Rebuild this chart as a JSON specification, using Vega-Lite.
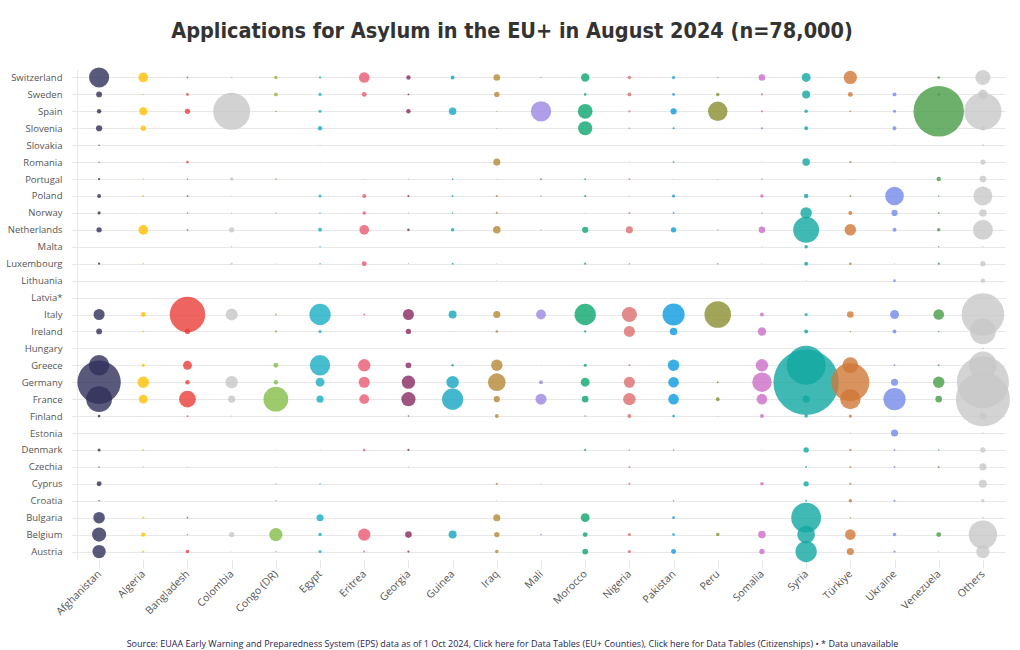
{
"$schema": "https://vega.github.io/schema/vega-lite/v6.json",
"autosize": {"type": "none"},
"width": 928,
"height": 491,
"padding": {"left": 77, "top": 69, "right": 15, "bottom": 90},
"background": "white",
"title": {"text": "Applications for Asylum in the EU+ in August 2024 (n=78,000)", "font": "DejaVu Sans Condensed, Open Sans, sans-serif", "fontSize": 21.5, "fontWeight": "bold", "color": "#333333", "anchor": "middle", "dx": -29, "offset": 25},
"config": {"view": {"stroke": null}, "font": "Open Sans"},
"data": {"values": [
{"c":"Switzerland","n":"Afghanistan","v":595},{"c":"Switzerland","n":"Algeria","v":140},{"c":"Switzerland","n":"Bangladesh","v":5},{"c":"Switzerland","n":"Colombia","v":5},{"c":"Switzerland","n":"Congo (DR)","v":18},{"c":"Switzerland","n":"Egypt","v":7},{"c":"Switzerland","n":"Eritrea","v":166},{"c":"Switzerland","n":"Georgia","v":29},{"c":"Switzerland","n":"Guinea","v":23},{"c":"Switzerland","n":"Iraq","v":65},{"c":"Switzerland","n":"Mali","v":3},{"c":"Switzerland","n":"Morocco","v":104},{"c":"Switzerland","n":"Nigeria","v":18},{"c":"Switzerland","n":"Pakistan","v":14},{"c":"Switzerland","n":"Peru","v":3},{"c":"Switzerland","n":"Somalia","v":65},{"c":"Switzerland","n":"Syria","v":116},{"c":"Switzerland","n":"Türkiye","v":260},{"c":"Switzerland","n":"Venezuela","v":10},{"c":"Switzerland","n":"Others","v":334},
{"c":"Sweden","n":"Afghanistan","v":49},{"c":"Sweden","n":"Algeria","v":3},{"c":"Sweden","n":"Bangladesh","v":10},{"c":"Sweden","n":"Colombia","v":10},{"c":"Sweden","n":"Congo (DR)","v":23},{"c":"Sweden","n":"Egypt","v":14},{"c":"Sweden","n":"Eritrea","v":35},{"c":"Sweden","n":"Georgia","v":5},{"c":"Sweden","n":"Iraq","v":42},{"c":"Sweden","n":"Morocco","v":10},{"c":"Sweden","n":"Nigeria","v":23},{"c":"Sweden","n":"Pakistan","v":10},{"c":"Sweden","n":"Peru","v":18},{"c":"Sweden","n":"Somalia","v":7},{"c":"Sweden","n":"Syria","v":94},{"c":"Sweden","n":"Türkiye","v":35},{"c":"Sweden","n":"Ukraine","v":23},{"c":"Sweden","n":"Venezuela","v":10},{"c":"Sweden","n":"Others","v":140},
{"c":"Spain","n":"Afghanistan","v":29},{"c":"Spain","n":"Algeria","v":94},{"c":"Spain","n":"Bangladesh","v":42},{"c":"Spain","n":"Colombia","v":2007},{"c":"Spain","n":"Congo (DR)","v":5},{"c":"Spain","n":"Egypt","v":14},{"c":"Spain","n":"Georgia","v":29},{"c":"Spain","n":"Guinea","v":83},{"c":"Spain","n":"Iraq","v":2},{"c":"Spain","n":"Mali","v":611},{"c":"Spain","n":"Morocco","v":322},{"c":"Spain","n":"Nigeria","v":7},{"c":"Spain","n":"Pakistan","v":57},{"c":"Spain","n":"Peru","v":559},{"c":"Spain","n":"Somalia","v":7},{"c":"Spain","n":"Syria","v":18},{"c":"Spain","n":"Türkiye","v":5},{"c":"Spain","n":"Ukraine","v":14},{"c":"Spain","n":"Venezuela","v":3754},{"c":"Spain","n":"Others","v":2040},
{"c":"Slovenia","n":"Afghanistan","v":57},{"c":"Slovenia","n":"Algeria","v":42},{"c":"Slovenia","n":"Egypt","v":29},{"c":"Slovenia","n":"Iraq","v":2},{"c":"Slovenia","n":"Morocco","v":296},{"c":"Slovenia","n":"Nigeria","v":3},{"c":"Slovenia","n":"Pakistan","v":7},{"c":"Slovenia","n":"Somalia","v":7},{"c":"Slovenia","n":"Syria","v":23},{"c":"Slovenia","n":"Ukraine","v":23},{"c":"Slovenia","n":"Venezuela","v":3},{"c":"Slovenia","n":"Others","v":29},
{"c":"Slovakia","n":"Afghanistan","v":3},{"c":"Slovakia","n":"Egypt","v":1},{"c":"Slovakia","n":"Ukraine","v":1},{"c":"Slovakia","n":"Others","v":5},
{"c":"Romania","n":"Afghanistan","v":3},{"c":"Romania","n":"Bangladesh","v":10},{"c":"Romania","n":"Egypt","v":1},{"c":"Romania","n":"Iraq","v":74},{"c":"Romania","n":"Nigeria","v":1},{"c":"Romania","n":"Pakistan","v":5},{"c":"Romania","n":"Somalia","v":1},{"c":"Romania","n":"Syria","v":83},{"c":"Romania","n":"Türkiye","v":7},{"c":"Romania","n":"Ukraine","v":1},{"c":"Romania","n":"Others","v":42},
{"c":"Portugal","n":"Afghanistan","v":7},{"c":"Portugal","n":"Algeria","v":3},{"c":"Portugal","n":"Bangladesh","v":3},{"c":"Portugal","n":"Colombia","v":18},{"c":"Portugal","n":"Congo (DR)","v":5},{"c":"Portugal","n":"Eritrea","v":1},{"c":"Portugal","n":"Georgia","v":1},{"c":"Portugal","n":"Guinea","v":5},{"c":"Portugal","n":"Iraq","v":1},{"c":"Portugal","n":"Mali","v":7},{"c":"Portugal","n":"Morocco","v":5},{"c":"Portugal","n":"Nigeria","v":5},{"c":"Portugal","n":"Pakistan","v":1},{"c":"Portugal","n":"Peru","v":1},{"c":"Portugal","n":"Somalia","v":3},{"c":"Portugal","n":"Türkiye","v":1},{"c":"Portugal","n":"Venezuela","v":29},{"c":"Portugal","n":"Others","v":65},
{"c":"Poland","n":"Afghanistan","v":23},{"c":"Poland","n":"Algeria","v":5},{"c":"Poland","n":"Bangladesh","v":5},{"c":"Poland","n":"Colombia","v":1},{"c":"Poland","n":"Egypt","v":14},{"c":"Poland","n":"Eritrea","v":23},{"c":"Poland","n":"Georgia","v":7},{"c":"Poland","n":"Guinea","v":5},{"c":"Poland","n":"Iraq","v":7},{"c":"Poland","n":"Mali","v":3},{"c":"Poland","n":"Morocco","v":7},{"c":"Poland","n":"Nigeria","v":1},{"c":"Poland","n":"Pakistan","v":14},{"c":"Poland","n":"Somalia","v":18},{"c":"Poland","n":"Syria","v":29},{"c":"Poland","n":"Türkiye","v":5},{"c":"Poland","n":"Ukraine","v":510},{"c":"Poland","n":"Venezuela","v":3},{"c":"Poland","n":"Others","v":525},
{"c":"Norway","n":"Afghanistan","v":14},{"c":"Norway","n":"Algeria","v":1},{"c":"Norway","n":"Bangladesh","v":3},{"c":"Norway","n":"Colombia","v":3},{"c":"Norway","n":"Congo (DR)","v":3},{"c":"Norway","n":"Egypt","v":3},{"c":"Norway","n":"Eritrea","v":18},{"c":"Norway","n":"Georgia","v":1},{"c":"Norway","n":"Guinea","v":3},{"c":"Norway","n":"Iraq","v":7},{"c":"Norway","n":"Morocco","v":1},{"c":"Norway","n":"Nigeria","v":5},{"c":"Norway","n":"Pakistan","v":5},{"c":"Norway","n":"Somalia","v":3},{"c":"Norway","n":"Syria","v":195},{"c":"Norway","n":"Türkiye","v":23},{"c":"Norway","n":"Ukraine","v":57},{"c":"Norway","n":"Venezuela","v":5},{"c":"Norway","n":"Others","v":83},
{"c":"Netherlands","n":"Afghanistan","v":42},{"c":"Netherlands","n":"Algeria","v":140},{"c":"Netherlands","n":"Bangladesh","v":5},{"c":"Netherlands","n":"Colombia","v":42},{"c":"Netherlands","n":"Egypt","v":23},{"c":"Netherlands","n":"Eritrea","v":140},{"c":"Netherlands","n":"Georgia","v":10},{"c":"Netherlands","n":"Guinea","v":18},{"c":"Netherlands","n":"Iraq","v":83},{"c":"Netherlands","n":"Mali","v":3},{"c":"Netherlands","n":"Morocco","v":57},{"c":"Netherlands","n":"Nigeria","v":74},{"c":"Netherlands","n":"Pakistan","v":42},{"c":"Netherlands","n":"Peru","v":3},{"c":"Netherlands","n":"Somalia","v":65},{"c":"Netherlands","n":"Syria","v":995},{"c":"Netherlands","n":"Türkiye","v":195},{"c":"Netherlands","n":"Ukraine","v":23},{"c":"Netherlands","n":"Venezuela","v":18},{"c":"Netherlands","n":"Others","v":585},
{"c":"Malta","n":"Colombia","v":3},{"c":"Malta","n":"Egypt","v":3},{"c":"Malta","n":"Somalia","v":1},{"c":"Malta","n":"Syria","v":18},{"c":"Malta","n":"Venezuela","v":3},{"c":"Malta","n":"Others","v":3},
{"c":"Luxembourg","n":"Afghanistan","v":7},{"c":"Luxembourg","n":"Algeria","v":3},{"c":"Luxembourg","n":"Colombia","v":7},{"c":"Luxembourg","n":"Congo (DR)","v":1},{"c":"Luxembourg","n":"Egypt","v":3},{"c":"Luxembourg","n":"Eritrea","v":35},{"c":"Luxembourg","n":"Georgia","v":1},{"c":"Luxembourg","n":"Guinea","v":5},{"c":"Luxembourg","n":"Iraq","v":1},{"c":"Luxembourg","n":"Morocco","v":7},{"c":"Luxembourg","n":"Nigeria","v":3},{"c":"Luxembourg","n":"Peru","v":3},{"c":"Luxembourg","n":"Somalia","v":1},{"c":"Luxembourg","n":"Syria","v":23},{"c":"Luxembourg","n":"Türkiye","v":10},{"c":"Luxembourg","n":"Ukraine","v":1},{"c":"Luxembourg","n":"Venezuela","v":7},{"c":"Luxembourg","n":"Others","v":42},
{"c":"Lithuania","n":"Iraq","v":1},{"c":"Lithuania","n":"Syria","v":1},{"c":"Lithuania","n":"Ukraine","v":10},{"c":"Lithuania","n":"Others","v":29},
{"c":"Italy","n":"Afghanistan","v":180},{"c":"Italy","n":"Algeria","v":35},{"c":"Italy","n":"Bangladesh","v":1849},{"c":"Italy","n":"Colombia","v":210},{"c":"Italy","n":"Congo (DR)","v":5},{"c":"Italy","n":"Egypt","v":666},{"c":"Italy","n":"Eritrea","v":5},{"c":"Italy","n":"Georgia","v":180},{"c":"Italy","n":"Guinea","v":94},{"c":"Italy","n":"Iraq","v":74},{"c":"Italy","n":"Mali","v":140},{"c":"Italy","n":"Morocco","v":666},{"c":"Italy","n":"Nigeria","v":334},{"c":"Italy","n":"Pakistan","v":722},{"c":"Italy","n":"Peru","v":1040},{"c":"Italy","n":"Somalia","v":23},{"c":"Italy","n":"Syria","v":14},{"c":"Italy","n":"Türkiye","v":65},{"c":"Italy","n":"Ukraine","v":116},{"c":"Italy","n":"Venezuela","v":166},{"c":"Italy","n":"Others","v":2662},
{"c":"Ireland","n":"Afghanistan","v":49},{"c":"Ireland","n":"Algeria","v":5},{"c":"Ireland","n":"Bangladesh","v":42},{"c":"Ireland","n":"Congo (DR)","v":7},{"c":"Ireland","n":"Egypt","v":14},{"c":"Ireland","n":"Georgia","v":42},{"c":"Ireland","n":"Guinea","v":1},{"c":"Ireland","n":"Iraq","v":10},{"c":"Ireland","n":"Morocco","v":7},{"c":"Ireland","n":"Nigeria","v":180},{"c":"Ireland","n":"Pakistan","v":83},{"c":"Ireland","n":"Somalia","v":104},{"c":"Ireland","n":"Syria","v":23},{"c":"Ireland","n":"Türkiye","v":3},{"c":"Ireland","n":"Ukraine","v":23},{"c":"Ireland","n":"Venezuela","v":3},{"c":"Ireland","n":"Others","v":972},
{"c":"Hungary","n":"Others","v":5},
{"c":"Greece","n":"Afghanistan","v":611},{"c":"Greece","n":"Algeria","v":14},{"c":"Greece","n":"Bangladesh","v":116},{"c":"Greece","n":"Congo (DR)","v":35},{"c":"Greece","n":"Egypt","v":611},{"c":"Greece","n":"Eritrea","v":226},{"c":"Greece","n":"Georgia","v":49},{"c":"Greece","n":"Guinea","v":10},{"c":"Greece","n":"Iraq","v":195},{"c":"Greece","n":"Mali","v":1},{"c":"Greece","n":"Morocco","v":14},{"c":"Greece","n":"Nigeria","v":5},{"c":"Greece","n":"Pakistan","v":195},{"c":"Greece","n":"Somalia","v":226},{"c":"Greece","n":"Syria","v":2237},{"c":"Greece","n":"Türkiye","v":374},{"c":"Greece","n":"Ukraine","v":5},{"c":"Greece","n":"Venezuela","v":5},{"c":"Greece","n":"Others","v":1110},
{"c":"Germany","n":"Afghanistan","v":2775},{"c":"Germany","n":"Algeria","v":195},{"c":"Germany","n":"Bangladesh","v":29},{"c":"Germany","n":"Colombia","v":226},{"c":"Germany","n":"Congo (DR)","v":29},{"c":"Germany","n":"Egypt","v":116},{"c":"Germany","n":"Eritrea","v":180},{"c":"Germany","n":"Georgia","v":260},{"c":"Germany","n":"Guinea","v":226},{"c":"Germany","n":"Iraq","v":462},{"c":"Germany","n":"Mali","v":23},{"c":"Germany","n":"Morocco","v":116},{"c":"Germany","n":"Nigeria","v":180},{"c":"Germany","n":"Pakistan","v":166},{"c":"Germany","n":"Peru","v":5},{"c":"Germany","n":"Somalia","v":559},{"c":"Germany","n":"Syria","v":6300},{"c":"Germany","n":"Türkiye","v":2137},{"c":"Germany","n":"Ukraine","v":74},{"c":"Germany","n":"Venezuela","v":195},{"c":"Germany","n":"Others","v":4000},
{"c":"France","n":"Afghanistan","v":972},{"c":"France","n":"Algeria","v":116},{"c":"France","n":"Bangladesh","v":417},{"c":"France","n":"Colombia","v":74},{"c":"France","n":"Congo (DR)","v":906},{"c":"France","n":"Egypt","v":74},{"c":"France","n":"Eritrea","v":140},{"c":"France","n":"Georgia","v":296},{"c":"France","n":"Guinea","v":666},{"c":"France","n":"Iraq","v":57},{"c":"France","n":"Mali","v":180},{"c":"France","n":"Morocco","v":65},{"c":"France","n":"Nigeria","v":226},{"c":"France","n":"Pakistan","v":166},{"c":"France","n":"Peru","v":23},{"c":"France","n":"Somalia","v":166},{"c":"France","n":"Syria","v":74},{"c":"France","n":"Türkiye","v":611},{"c":"France","n":"Ukraine","v":722},{"c":"France","n":"Venezuela","v":65},{"c":"France","n":"Others","v":4300},
{"c":"Finland","n":"Afghanistan","v":10},{"c":"Finland","n":"Algeria","v":1},{"c":"Finland","n":"Bangladesh","v":5},{"c":"Finland","n":"Colombia","v":3},{"c":"Finland","n":"Congo (DR)","v":1},{"c":"Finland","n":"Georgia","v":3},{"c":"Finland","n":"Iraq","v":23},{"c":"Finland","n":"Morocco","v":3},{"c":"Finland","n":"Nigeria","v":23},{"c":"Finland","n":"Pakistan","v":10},{"c":"Finland","n":"Peru","v":1},{"c":"Finland","n":"Somalia","v":23},{"c":"Finland","n":"Syria","v":18},{"c":"Finland","n":"Türkiye","v":14},{"c":"Finland","n":"Ukraine","v":1},{"c":"Finland","n":"Others","v":74},
{"c":"Estonia","n":"Türkiye","v":1},{"c":"Estonia","n":"Ukraine","v":74},{"c":"Estonia","n":"Others","v":3},
{"c":"Denmark","n":"Afghanistan","v":14},{"c":"Denmark","n":"Algeria","v":5},{"c":"Denmark","n":"Congo (DR)","v":1},{"c":"Denmark","n":"Egypt","v":1},{"c":"Denmark","n":"Eritrea","v":10},{"c":"Denmark","n":"Georgia","v":7},{"c":"Denmark","n":"Morocco","v":7},{"c":"Denmark","n":"Nigeria","v":3},{"c":"Denmark","n":"Pakistan","v":3},{"c":"Denmark","n":"Somalia","v":1},{"c":"Denmark","n":"Syria","v":42},{"c":"Denmark","n":"Türkiye","v":7},{"c":"Denmark","n":"Ukraine","v":5},{"c":"Denmark","n":"Venezuela","v":3},{"c":"Denmark","n":"Others","v":42},
{"c":"Czechia","n":"Afghanistan","v":3},{"c":"Czechia","n":"Algeria","v":3},{"c":"Czechia","n":"Bangladesh","v":1},{"c":"Czechia","n":"Congo (DR)","v":1},{"c":"Czechia","n":"Georgia","v":1},{"c":"Czechia","n":"Nigeria","v":5},{"c":"Czechia","n":"Syria","v":5},{"c":"Czechia","n":"Türkiye","v":5},{"c":"Czechia","n":"Ukraine","v":5},{"c":"Czechia","n":"Venezuela","v":5},{"c":"Czechia","n":"Others","v":74},
{"c":"Cyprus","n":"Afghanistan","v":35},{"c":"Cyprus","n":"Congo (DR)","v":3},{"c":"Cyprus","n":"Egypt","v":3},{"c":"Cyprus","n":"Iraq","v":7},{"c":"Cyprus","n":"Mali","v":1},{"c":"Cyprus","n":"Nigeria","v":7},{"c":"Cyprus","n":"Somalia","v":18},{"c":"Cyprus","n":"Syria","v":42},{"c":"Cyprus","n":"Türkiye","v":7},{"c":"Cyprus","n":"Others","v":94},
{"c":"Croatia","n":"Afghanistan","v":3},{"c":"Croatia","n":"Congo (DR)","v":3},{"c":"Croatia","n":"Iraq","v":1},{"c":"Croatia","n":"Pakistan","v":3},{"c":"Croatia","n":"Syria","v":5},{"c":"Croatia","n":"Türkiye","v":18},{"c":"Croatia","n":"Ukraine","v":7},{"c":"Croatia","n":"Others","v":18},
{"c":"Bulgaria","n":"Afghanistan","v":195},{"c":"Bulgaria","n":"Algeria","v":7},{"c":"Bulgaria","n":"Bangladesh","v":5},{"c":"Bulgaria","n":"Egypt","v":74},{"c":"Bulgaria","n":"Iraq","v":74},{"c":"Bulgaria","n":"Morocco","v":116},{"c":"Bulgaria","n":"Pakistan","v":10},{"c":"Bulgaria","n":"Syria","v":1312},{"c":"Bulgaria","n":"Türkiye","v":3},{"c":"Bulgaria","n":"Others","v":5},
{"c":"Belgium","n":"Afghanistan","v":296},{"c":"Belgium","n":"Algeria","v":29},{"c":"Belgium","n":"Bangladesh","v":3},{"c":"Belgium","n":"Colombia","v":42},{"c":"Belgium","n":"Congo (DR)","v":260},{"c":"Belgium","n":"Egypt","v":18},{"c":"Belgium","n":"Eritrea","v":226},{"c":"Belgium","n":"Georgia","v":65},{"c":"Belgium","n":"Guinea","v":94},{"c":"Belgium","n":"Iraq","v":42},{"c":"Belgium","n":"Mali","v":5},{"c":"Belgium","n":"Morocco","v":35},{"c":"Belgium","n":"Nigeria","v":14},{"c":"Belgium","n":"Pakistan","v":10},{"c":"Belgium","n":"Peru","v":18},{"c":"Belgium","n":"Somalia","v":83},{"c":"Belgium","n":"Syria","v":462},{"c":"Belgium","n":"Türkiye","v":166},{"c":"Belgium","n":"Ukraine","v":18},{"c":"Belgium","n":"Venezuela","v":35},{"c":"Belgium","n":"Others","v":1183},
{"c":"Austria","n":"Afghanistan","v":260},{"c":"Austria","n":"Algeria","v":7},{"c":"Austria","n":"Bangladesh","v":18},{"c":"Austria","n":"Colombia","v":1},{"c":"Austria","n":"Congo (DR)","v":3},{"c":"Austria","n":"Egypt","v":14},{"c":"Austria","n":"Eritrea","v":5},{"c":"Austria","n":"Georgia","v":7},{"c":"Austria","n":"Iraq","v":18},{"c":"Austria","n":"Morocco","v":49},{"c":"Austria","n":"Nigeria","v":14},{"c":"Austria","n":"Pakistan","v":35},{"c":"Austria","n":"Somalia","v":42},{"c":"Austria","n":"Syria","v":666},{"c":"Austria","n":"Türkiye","v":74},{"c":"Austria","n":"Ukraine","v":7},{"c":"Austria","n":"Venezuela","v":1},{"c":"Austria","n":"Others","v":260}
]},
"mark": {"type": "circle", "opacity": 0.8, "strokeWidth": 0},
"encoding": {
"x": {"field": "n", "type": "nominal", "sort": null,
 "scale": {"type": "point", "padding": 0.5, "domain": ["Afghanistan","Algeria","Bangladesh","Colombia","Congo (DR)","Egypt","Eritrea","Georgia","Guinea","Iraq","Mali","Morocco","Nigeria","Pakistan","Peru","Somalia","Syria","Türkiye","Ukraine","Venezuela","Others"]},
 "axis": {"title": "Source: EUAA Early Warning and Preparedness System (EPS) data as of 1 Oct 2024, Click here for Data Tables (EU+ Counties), Click here for Data Tables (Citizenships) • * Data unavailable",
  "titleFont": "Open Sans", "titleFontSize": 9, "titleFontWeight": "normal", "titleColor": "#1f2350", "titleX": 435, "titleY": 86, "titleAlign": "center", "titleBaseline": "alphabetic",
  "grid": false, "domain": false, "ticks": true, "tickSize": 8, "tickColor": "#e6e6e6",
  "labelAngle": -45, "labelAlign": "right", "labelBaseline": "middle", "labelPadding": 4, "labelFont": "Open Sans", "labelFontSize": 10.5, "labelColor": "#555555"}},
"y": {"field": "c", "type": "nominal", "sort": null,
 "scale": {"type": "point", "padding": 0.5, "domain": ["Switzerland","Sweden","Spain","Slovenia","Slovakia","Romania","Portugal","Poland","Norway","Netherlands","Malta","Luxembourg","Lithuania","Latvia*","Italy","Ireland","Hungary","Greece","Germany","France","Finland","Estonia","Denmark","Czechia","Cyprus","Croatia","Bulgaria","Belgium","Austria"]},
 "axis": {"title": null, "grid": true, "gridColor": "#e8e8e8", "domain": true, "domainColor": "#e8e8e8", "ticks": true, "tickSize": 6, "tickColor": "#e8e8e8", "labelPadding": 9, "labelFont": "Open Sans", "labelFontSize": 9.5, "labelColor": "#555555"}},
"size": {"field": "v", "type": "quantitative", "scale": {"type": "linear", "zero": true, "domain": [0, 6500], "range": [0, 4418]}, "legend": null},
"color": {"field": "n", "type": "nominal", "legend": null,
 "scale": {"domain": ["Afghanistan","Algeria","Bangladesh","Colombia","Congo (DR)","Egypt","Eritrea","Georgia","Guinea","Iraq","Mali","Morocco","Nigeria","Pakistan","Peru","Somalia","Syria","Türkiye","Ukraine","Venezuela","Others"],
  "range": ["#30305a","#ffbf00","#ea3d38","#c7c7c7","#85be47","#18aec4","#ea5972","#882b60","#15a5c3","#b58836","#9e86e2","#0ca66d","#dc6d6d","#099adf","#888e31","#ca6dc7","#10a8a1","#cf7837","#7388e7","#479c47","#c8c8c8"]}}
}
}
